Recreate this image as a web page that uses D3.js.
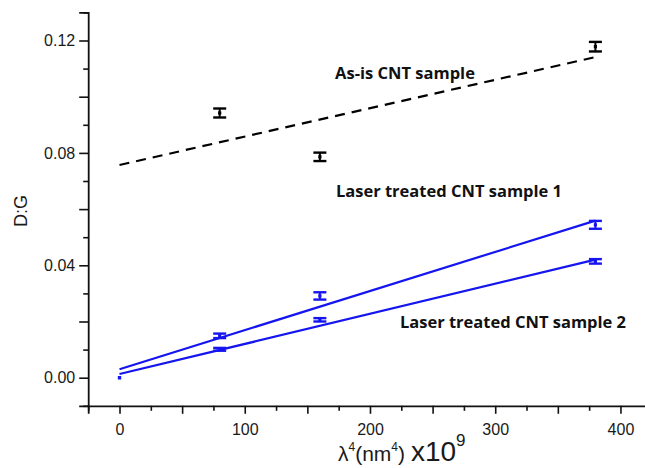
<!DOCTYPE html>
<html>
<head>
<meta charset="utf-8">
<script src="https://cdn.jsdelivr.net/npm/d3@7/dist/d3.min.js"></script>
<style>
  html, body { margin: 0; padding: 0; background: #fff; }
  svg { display: block; }
</style>
</head>
<body>
<svg id="chart" width="645" height="468"></svg>
<script>
// λ^4 values (×10^9 nm^4) for the excitation wavelengths
const xValues = [0, 80, 160, 380];
const asIsX = [80, 160, 380];

// D:G ratios and their error half-widths
const asIsY = [0.0942, 0.0786, 0.1178];
const asIsErr = [0.0016, 0.0015, 0.0017];
const laser1Y = [0.0, 0.0149, 0.0291, 0.0544];
const laser1Err = [0, 0.0008, 0.0013, 0.0014];
const laser2Y = [0.0, 0.0101, 0.0206, 0.0414];
const laser2Err = [0, 0.0005, 0.0006, 0.0008];

// Linear fits, given at their end points
const fitX = [0, 380];
const asIsFit = [0.0757, 0.1141];
const laser1Fit = [0.0030, 0.0559];
const laser2Fit = [0.0013, 0.0420];

// Axis ticks
const xTickLabels = [0, 100, 200, 300, 400];
const yTickLabels = [0.00, 0.04, 0.08, 0.12];
const xMinorTicks = d3.range(-25, 425, 25);
const yMinorTicks = d3.range(-1, 14, 1).map(v => v / 100);

const svg = d3.select("#chart");
const x = d3.scaleLinear().domain([-25, 420]).range([88.2, 645.5]);
const y = d3.scaleLinear().domain([-0.01, 0.13]).range([405.8, 12.4]);

const axisColor = "#111";
const blue = "#1515f0";

// X axis
const xAxis = d3.axisBottom(x)
  .tickValues(xMinorTicks)
  .tickSizeOuter(0)
  .tickSize(8)
  .tickPadding(10)
  .tickFormat(d => xTickLabels.includes(d) ? d3.format("d")(d) : "");
const gx = svg.append("g").attr("transform", `translate(0,${y(-0.01)})`).call(xAxis);
gx.selectAll(".tick line")
  .attr("y2", d => (d % 50 === 0 ? 8 : 5))
  .attr("stroke", axisColor).attr("stroke-width", 1.6);
gx.select(".domain").attr("stroke", axisColor).attr("stroke-width", 1.8);
gx.selectAll("text")
  .attr("font-family", "Liberation Sans, Arial, sans-serif")
  .attr("font-size", 16).attr("fill", "#1a1a1a");

// Y axis
const yAxis = d3.axisLeft(y)
  .tickValues(yMinorTicks)
  .tickSizeOuter(0)
  .tickSize(9)
  .tickPadding(4)
  .tickFormat(d => yTickLabels.some(v => Math.abs(v - d) < 1e-9) ? d3.format(".2f")(d) : "");
const gy = svg.append("g").attr("transform", `translate(${x(-25)},0)`).call(yAxis);
gy.selectAll(".tick line")
  .attr("x2", d => (Math.round(d * 100) % 2 === 0 ? -9 : -5))
  .attr("stroke", axisColor).attr("stroke-width", 1.6);
gy.select(".domain").attr("stroke", axisColor).attr("stroke-width", 1.8);
gy.selectAll("text")
  .attr("font-family", "Liberation Sans, Arial, sans-serif")
  .attr("font-size", 16).attr("fill", "#1a1a1a");

// Axis titles
svg.append("text")
  .attr("transform", `translate(27,211) rotate(-90)`)
  .attr("text-anchor", "middle")
  .attr("font-family", "Liberation Sans, Arial, sans-serif")
  .attr("font-size", 18).attr("fill", "#1a1a1a")
  .text("D:G");

const xt = svg.append("text")
  .attr("x", 338).attr("y", 461)
  .attr("font-family", "Liberation Sans, Arial, sans-serif")
  .attr("fill", "#1a1a1a");
xt.append("tspan").attr("font-size", 21).text("λ");
xt.append("tspan").attr("font-size", 12).attr("dy", -10).text("4");
xt.append("tspan").attr("font-size", 21).attr("dy", 10).text("(nm");
xt.append("tspan").attr("font-size", 12).attr("dy", -10).text("4");
xt.append("tspan").attr("font-size", 21).attr("dy", 10).text(") ");
xt.append("tspan").attr("font-size", 28).text("x10");
xt.append("tspan").attr("font-size", 17).attr("dy", -15).text("9");

// Fit lines
const line = d3.line().x(d => x(d[0])).y(d => y(d[1]));
function fitLine(vals, color, dash) {
  svg.append("path")
    .datum(fitX.map((v, i) => [v, vals[i]]))
    .attr("d", line)
    .attr("fill", "none")
    .attr("stroke", color)
    .attr("stroke-width", 2.2)
    .attr("stroke-dasharray", dash || null);
}
fitLine(asIsFit, "#000", "10,7");
fitLine(laser1Fit, blue);
fitLine(laser2Fit, blue);

// Error bars with point markers
function errorBars(xs, ys, errs, color) {
  const g = svg.append("g");
  xs.forEach((xv, i) => {
    const cx = x(xv), top = y(ys[i] + errs[i]), bot = y(ys[i] - errs[i]);
    if (errs[i] > 0) {
      g.append("line").attr("x1", cx).attr("x2", cx).attr("y1", top).attr("y2", bot)
        .attr("stroke", color).attr("stroke-width", 2);
      [top, bot].forEach(yy => {
        g.append("line").attr("x1", cx - 6.5).attr("x2", cx + 6.5).attr("y1", yy).attr("y2", yy)
          .attr("stroke", color).attr("stroke-width", 2.4);
      });
    }
    g.append("rect").attr("x", cx - 1.6).attr("y", y(ys[i]) - 1.6)
      .attr("width", 3.2).attr("height", 3.2).attr("fill", color);
  });
}
errorBars(asIsX, asIsY, asIsErr, "#000");
errorBars(xValues, laser1Y, laser1Err, blue);
errorBars(xValues, laser2Y, laser2Err, blue);

// Series annotations
const labelFont = "Open Sans, Liberation Sans, sans-serif";
[["As-is CNT sample", 405, 79], ["Laser treated CNT sample 1", 449, 197], ["Laser treated CNT sample 2", 513, 328]]
  .forEach(([t, lx, ly]) => {
    svg.append("text").attr("x", lx).attr("y", ly)
      .attr("text-anchor", "middle")
      .attr("font-family", labelFont).attr("font-weight", "bold")
      .attr("font-size", 16.5).attr("fill", "#111")
      .text(t);
  });
</script>
</body>
</html>
